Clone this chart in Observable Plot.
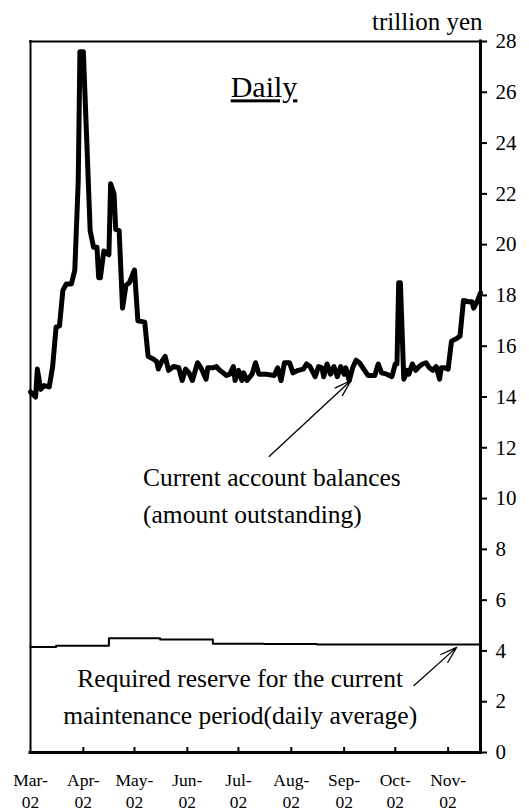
<!DOCTYPE html>
<html>
<head>
<meta charset="utf-8">
<script src="https://cdn.jsdelivr.net/npm/d3@7"></script>
<script src="https://cdn.jsdelivr.net/npm/@observablehq/plot@0.6"></script>
<style>
html, body { margin: 0; padding: 0; background: #fff; }
#chart svg, #chart svg text, #chart svg tspan { font-family: 'Liberation Serif', 'Times New Roman', Times, serif !important; }
</style>
</head>
<body>
<div id="chart"></div>
<script>
// ---- data ----
const balanceDates = [
  "2002-03-01","2002-03-04","2002-03-05","2002-03-07","2002-03-09","2002-03-12","2002-03-14","2002-03-16",
  "2002-03-18","2002-03-20","2002-03-22","2002-03-25","2002-03-27","2002-03-29","2002-03-30","2002-04-01",
  "2002-04-03","2002-04-05","2002-04-07","2002-04-09","2002-04-10","2002-04-11","2002-04-13","2002-04-16",
  "2002-04-17","2002-04-19","2002-04-20","2002-04-22","2002-04-24","2002-04-26","2002-04-28","2002-05-01",
  "2002-05-03","2002-05-07","2002-05-09","2002-05-12","2002-05-14","2002-05-15","2002-05-17","2002-05-19",
  "2002-05-21","2002-05-24","2002-05-27","2002-05-29","2002-05-31","2002-06-02","2002-06-04","2002-06-07",
  "2002-06-09","2002-06-12","2002-06-13","2002-06-16","2002-06-18","2002-06-20","2002-06-24","2002-06-26",
  "2002-06-28","2002-06-29","2002-07-01","2002-07-03","2002-07-04","2002-07-06","2002-07-09","2002-07-11",
  "2002-07-13","2002-07-17","2002-07-22","2002-07-24","2002-07-26","2002-07-28","2002-07-31","2002-08-02",
  "2002-08-05","2002-08-08","2002-08-10","2002-08-12","2002-08-15","2002-08-17","2002-08-19","2002-08-20",
  "2002-08-22","2002-08-24","2002-08-26","2002-08-28","2002-08-30","2002-09-01","2002-09-02","2002-09-04",
  "2002-09-06","2002-09-08","2002-09-10","2002-09-12","2002-09-15","2002-09-19","2002-09-21","2002-09-23",
  "2002-09-26","2002-09-29","2002-10-01","2002-10-02","2002-10-03","2002-10-04","2002-10-06","2002-10-08",
  "2002-10-09","2002-10-11","2002-10-13","2002-10-15","2002-10-17","2002-10-19","2002-10-21","2002-10-23",
  "2002-10-25","2002-10-27","2002-10-28","2002-10-30","2002-11-01","2002-11-03","2002-11-06","2002-11-08",
  "2002-11-10","2002-11-13","2002-11-15","2002-11-16","2002-11-18","2002-11-20"
];
const balanceValues = [
  14.2, 14.0, 15.1, 14.3, 14.45, 14.4, 15.2, 16.75,
  16.8, 18.2, 18.45, 18.45, 19.0, 22.5, 27.6, 27.6,
  24.1, 20.55, 19.9, 19.9, 18.7, 18.7, 19.75, 19.6,
  22.4, 22.0, 20.6, 20.55, 17.5, 18.4, 18.5, 19.0,
  17.0, 16.95, 15.6, 15.5, 15.4, 15.1, 15.4, 15.6,
  15.05, 15.2, 15.15, 14.65, 15.1, 14.95, 14.65, 15.35,
  15.15, 14.7, 15.15, 15.15, 15.2, 15.05, 14.85, 14.9,
  15.2, 14.65, 15.05, 14.65, 14.95, 14.65, 14.9, 15.35,
  14.9, 14.9, 14.85, 15.15, 14.65, 15.35, 15.35, 14.95,
  15.05, 15.1, 15.3, 15.2, 14.8, 15.2, 15.15, 14.8,
  15.3, 14.9, 15.2, 14.8, 15.2, 14.9, 15.15, 14.65,
  15.15, 15.45, 15.35, 15.15, 14.85, 14.85, 15.3, 14.95,
  14.9, 14.8, 15.3, 15.3, 18.5, 18.5, 14.7, 15.05,
  14.9, 15.3, 15.05, 15.2, 15.3, 15.35, 15.15, 15.05,
  15.2, 14.7, 15.15, 15.15, 15.1, 16.2, 16.3, 16.4,
  17.8, 17.75, 17.75, 17.5, 17.75, 18.1
];
const reserveDates  = ["2002-03-01","2002-03-16","2002-04-16","2002-05-16","2002-06-16","2002-07-16","2002-08-16","2002-09-16","2002-10-16","2002-11-20"];
const reserveValues = [4.15, 4.2, 4.5, 4.45, 4.28, 4.27, 4.25, 4.25, 4.25, 4.25];

const monthTicks  = ["2002-03-01","2002-04-01","2002-05-01","2002-06-01","2002-07-01","2002-08-01","2002-09-01","2002-10-01","2002-11-01"];
const monthLabels = ["Mar-\n02","Apr-\n02","May-\n02","Jun-\n02","Jul-\n02","Aug-\n02","Sep-\n02","Oct-\n02","Nov-\n02"];
const xDomain = ["2002-03-01","2002-11-20"];
const yTicks = [0, 2, 4, 6, 8, 10, 12, 14, 16, 18, 20, 22, 24, 26, 28];

const unitLabel = "trillion yen";
const titleText = "Daily";
const balanceLabel = "Current account balances\n(amount outstanding)";
const reserveLabel = "Required reserve for the current\nmaintenance period(daily average)";

// annotation anchors in data space
const titleAt = {date: "2002-07-16", value: 25.8};
const balanceLabelAt = {date: "2002-05-06", value: 9.02};
const reserveLabelAt = {date: "2002-07-02", value: 1.14};
const balanceArrow = {from: "2002-07-19", fromV: 11.66, to: "2002-09-05", toV: 14.65};
const reserveArrow = {from: "2002-10-12", fromV: 2.64, to: "2002-11-06", toV: 4.14};

// ---- build ----
const parse = d3.utcParse("%Y-%m-%d");
const balance = balanceDates.map((d, i) => ({date: parse(d), value: balanceValues[i]}));
const reserve = reserveDates.map((d, i) => ({date: parse(d), value: reserveValues[i]}));
const months = monthTicks.map(parse);
const labelByTime = new Map(months.map((d, i) => [+d, monthLabels[i]]));
const x0 = parse(xDomain[0]), x1 = parse(xDomain[1]);
const yMin = d3.min(yTicks), yMax = d3.max(yTicks);

const W = 529, H = 812, mL = 30, mR = 49, mT = 41, mB = 60;
const innerH = H - mT - mB;
const serif = "'Liberation Serif','Times New Roman',Times,serif";

const arrows = [balanceArrow, reserveArrow].map(a => ({x1: parse(a.from), y1: a.fromV, x2: parse(a.to), y2: a.toV}));

const chart = Plot.plot({
  width: W, height: H,
  marginLeft: mL, marginRight: mR, marginTop: mT, marginBottom: mB,
  style: {fontFamily: serif, background: "#fff", color: "#000", overflow: "visible"},
  x: {type: "utc", domain: [x0, x1]},
  y: {domain: [yMin, yMax]},
  marks: [
    Plot.axisY(yTicks, {anchor: "right", tickSize: 6, tickPadding: 9, fontSize: 21, fontFamily: serif, strokeWidth: 2, tickFormat: d => String(d), label: null}),
    Plot.axisX(months, {anchor: "bottom", tickSize: 0, tickPadding: 18, fontSize: 17.5, fontFamily: serif, lineHeight: 1.25, tickFormat: d => labelByTime.get(+d), label: null}),
    Plot.ruleX(months.slice(1), {strokeWidth: 2, insetTop: innerH - 5}),
    Plot.ruleY([yMax], {strokeWidth: 2, strokeLinecap: "square"}),
    Plot.ruleX([x0], {strokeWidth: 2, strokeLinecap: "square"}),
    Plot.ruleX([x1], {strokeWidth: 3, strokeLinecap: "square"}),
    Plot.ruleY([yMin], {strokeWidth: 3, strokeLinecap: "square"}),
    Plot.line(reserve, {x: "date", y: "value", curve: "step-after", strokeWidth: 2}),
    Plot.line(balance, {x: "date", y: "value", strokeWidth: 5, strokeLinejoin: "round"}),
    Plot.arrow(arrows, {x1: "x1", y1: "y1", x2: "x2", y2: "y2", headAngle: 35, headLength: 20, strokeWidth: 1.3}),
    Plot.text([unitLabel], {frameAnchor: "top-right", textAnchor: "end", lineAnchor: "bottom", dy: -12, dx: 2, fontSize: 25, fontFamily: serif}),
    Plot.text([titleText], {x: () => parse(titleAt.date), y: () => titleAt.value, fontSize: 30, fontFamily: serif, lineAnchor: "bottom"}),
    Plot.text([balanceLabel], {x: () => parse(balanceLabelAt.date), y: () => balanceLabelAt.value, textAnchor: "start", lineAnchor: "bottom", fontSize: 25.5, fontFamily: serif, lineHeight: 1.45}),
    Plot.text([reserveLabel], {x: () => parse(reserveLabelAt.date), y: () => reserveLabelAt.value, textAnchor: "middle", lineAnchor: "bottom", fontSize: 25.5, fontFamily: serif, lineHeight: 1.45})
  ]
});
for (const t of chart.querySelectorAll("text")) {
  if (t.textContent === titleText) t.style.textDecoration = "underline";
}
document.getElementById("chart").appendChild(chart);
</script>
</body>
</html>
